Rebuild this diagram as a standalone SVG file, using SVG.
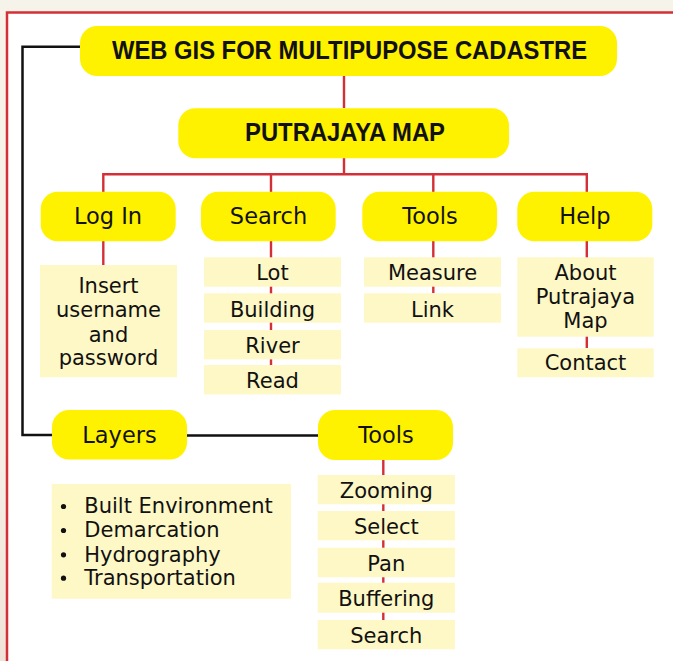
<svg xmlns="http://www.w3.org/2000/svg" width="673" height="661" viewBox="0 0 673 661">
  <defs>
    <linearGradient id="paper" x1="0" y1="0" x2="0" y2="1">
      <stop offset="0" stop-color="#f6f3ea"/>
      <stop offset="0.7" stop-color="#f4eee4"/>
      <stop offset="1" stop-color="#efe3d8"/>
    </linearGradient>
    <style>
      .head { fill: #fff200; }
      .item { fill: #fef8c6; }
      .red { stroke: #d42f37; stroke-width: 2.4; fill: none; }
      .blk { stroke: #111111; stroke-width: 2.5; fill: none; }
      .title { font-family: "Liberation Sans", "DejaVu Sans", sans-serif; font-weight: bold; font-size: 25px; fill: #111; text-anchor: middle; }
      .lbl { font-family: "DejaVu Sans", "Liberation Sans", sans-serif; font-size: 22.5px; fill: #111; text-anchor: middle; }
      .sub { font-family: "DejaVu Sans", "Liberation Sans", sans-serif; font-size: 21px; fill: #111; text-anchor: middle; }
      .list { font-family: "DejaVu Sans", "Liberation Sans", sans-serif; font-size: 21px; fill: #111; }
    </style>
  </defs>

  <!-- page background and frame -->
  <rect x="0" y="0" width="673" height="661" fill="url(#paper)"/>
  <rect x="7" y="12.5" width="720" height="720" fill="#ffffff" stroke="#d42f37" stroke-width="2.5"/>

  <!-- connectors -->
  <g id="connectors">
    <path class="blk" d="M80 46.7 H22.5 V435 H52 M187 435.5 H318"/>
    <path class="red" d="M344 76 V108 M344 158 V174.3 M103.3 192 V174.3 H586.8 V192"/>
    <path class="red" d="M271 174.3 V192 M433.3 174.3 V192"/>
    <path class="red" d="M103.3 241 V265"/>
    <path class="red" d="M271 241 V365"/>
    <path class="red" d="M433.3 241 V293"/>
    <path class="red" d="M586.8 241 V348"/>
    <path class="red" d="M383.3 460 V620"/>
  </g>

  <!-- title -->
  <g id="n-title">
    <rect class="head" x="80" y="26" width="537" height="50" rx="17"/>
    <text class="title" x="349.5" y="59.3" textLength="475" lengthAdjust="spacingAndGlyphs">WEB GIS FOR MULTIPUPOSE CADASTRE</text>
  </g>

  <g id="n-putrajaya">
    <rect class="head" x="178.3" y="108.3" width="330.7" height="50" rx="17"/>
    <text class="title" x="345" y="140.7" textLength="200" lengthAdjust="spacingAndGlyphs">PUTRAJAYA MAP</text>
  </g>

  <!-- first level -->
  <g id="n-login">
    <rect class="head" x="40.7" y="191.7" width="135" height="49.5" rx="17"/>
    <text class="lbl" x="108" y="224.3">Log In</text>
  </g>
  <g id="n-search">
    <rect class="head" x="201" y="191.7" width="134.7" height="49.5" rx="17"/>
    <text class="lbl" x="268.5" y="224.3">Search</text>
  </g>
  <g id="n-tools">
    <rect class="head" x="362.3" y="191.7" width="134.7" height="49.5" rx="17"/>
    <text class="lbl" x="430" y="224.3">Tools</text>
  </g>
  <g id="n-help">
    <rect class="head" x="517.3" y="191.7" width="135" height="49.5" rx="17"/>
    <text class="lbl" x="585" y="224.3">Help</text>
  </g>

  <!-- Log In items -->
  <g id="n-login-insert">
    <rect class="item" x="40" y="265" width="137" height="112.3"/>
    <text class="sub" x="108.5" y="293.3">Insert</text>
    <text class="sub" x="108.5" y="317.3">username</text>
    <text class="sub" x="108.5" y="341.5">and</text>
    <text class="sub" x="108.5" y="365">password</text>
  </g>

  <!-- Search items -->
  <g id="n-search-lot">
    <rect class="item" x="204" y="257.3" width="137" height="29.4"/>
    <text class="sub" x="272.5" y="280">Lot</text>
  </g>
  <g id="n-search-building">
    <rect class="item" x="204" y="293.3" width="137" height="29.4"/>
    <text class="sub" x="272.5" y="316.7">Building</text>
  </g>
  <g id="n-search-river">
    <rect class="item" x="204" y="330" width="137" height="29.4"/>
    <text class="sub" x="272.5" y="353.3">River</text>
  </g>
  <g id="n-search-read">
    <rect class="item" x="204" y="365" width="137" height="29.4"/>
    <text class="sub" x="272.5" y="388.3">Read</text>
  </g>

  <!-- Tools items -->
  <g id="n-tools-measure">
    <rect class="item" x="364" y="257.3" width="137" height="29.4"/>
    <text class="sub" x="432.5" y="280">Measure</text>
  </g>
  <g id="n-tools-link">
    <rect class="item" x="364" y="293.3" width="137" height="29.4"/>
    <text class="sub" x="432.5" y="316.7">Link</text>
  </g>

  <!-- Help items -->
  <g id="n-help-about">
    <rect class="item" x="517.3" y="257.3" width="136.4" height="79.4"/>
    <text class="sub" x="585.5" y="280">About</text>
    <text class="sub" x="585.5" y="304">Putrajaya</text>
    <text class="sub" x="585.5" y="328.3">Map</text>
  </g>
  <g id="n-help-contact">
    <rect class="item" x="517.3" y="348.3" width="136.4" height="29"/>
    <text class="sub" x="585.5" y="370">Contact</text>
  </g>

  <!-- lower branch -->
  <g id="n-layers">
    <rect class="head" x="52" y="410" width="135" height="49.5" rx="17"/>
    <text class="lbl" x="119.5" y="442.7">Layers</text>
  </g>
  <g id="n-layers-list">
    <rect class="item" x="51.7" y="484" width="239.3" height="114.7"/>
    <g fill="#111">
      <circle cx="63.5" cy="506.5" r="2.6"/>
      <circle cx="63.5" cy="530.5" r="2.6"/>
      <circle cx="63.5" cy="554.8" r="2.6"/>
      <circle cx="63.5" cy="578.2" r="2.6"/>
    </g>
    <text class="list" x="84.3" y="513.3">Built Environment</text>
    <text class="list" x="84.3" y="537.3">Demarcation</text>
    <text class="list" x="84.3" y="561.7">Hydrography</text>
    <text class="list" x="84.3" y="585">Transportation</text>
  </g>

  <g id="n-tools2">
    <rect class="head" x="318" y="410" width="135" height="50" rx="17"/>
    <text class="lbl" x="386" y="442.7">Tools</text>
  </g>
  <g id="n-tools2-zooming">
    <rect class="item" x="317.7" y="475" width="137.3" height="29.3"/>
    <text class="sub" x="386.3" y="498.3">Zooming</text>
  </g>
  <g id="n-tools2-select">
    <rect class="item" x="317.7" y="511" width="137.3" height="29.3"/>
    <text class="sub" x="386.3" y="534.3">Select</text>
  </g>
  <g id="n-tools2-pan">
    <rect class="item" x="317.7" y="547.7" width="137.3" height="29.6"/>
    <text class="sub" x="386.3" y="571">Pan</text>
  </g>
  <g id="n-tools2-buffering">
    <rect class="item" x="317.7" y="582.7" width="137.3" height="30"/>
    <text class="sub" x="386.3" y="605.7">Buffering</text>
  </g>
  <g id="n-tools2-search">
    <rect class="item" x="317.7" y="620" width="137.3" height="29.3"/>
    <text class="sub" x="386.3" y="642.7">Search</text>
  </g>
</svg>
